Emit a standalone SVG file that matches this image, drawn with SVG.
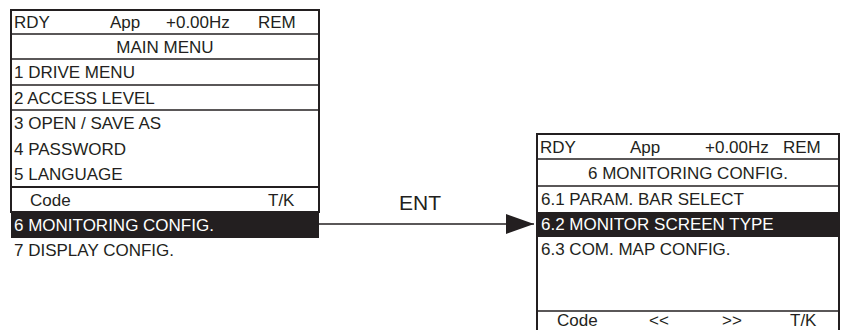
<svg xmlns="http://www.w3.org/2000/svg" width="841" height="330" viewBox="0 0 841 330">
<style>
text{font-family:"Liberation Sans",Arial,sans-serif;font-size:17px;fill:#231f20}
.w{fill:#ffffff}
.b{fill:none;stroke:#231f20;stroke-width:2}
.l{stroke:#231f20;stroke-width:1.5}
.band{fill:#231f20}
</style>
<defs>
<marker id="ah" markerWidth="30" markerHeight="20" refX="28" refY="10" orient="auto" markerUnits="userSpaceOnUse">
<path d="M0,0 L28,10 L0,20 Z" fill="#231f20"/>
</marker>
</defs>
<rect width="841" height="330" fill="#ffffff"/>
<g id="main-menu">
<rect class="b" x="11" y="10" width="308" height="202"/>
<line class="l" x1="11" y1="34" x2="319" y2="34"/>
<line class="l" x1="11" y1="59" x2="319" y2="59"/>
<line class="l" x1="11" y1="85" x2="319" y2="85"/>
<line class="l" x1="11" y1="110" x2="319" y2="110"/>
<line class="b" x1="11" y1="187" x2="319" y2="187"/>
<text x="14" y="28">RDY</text>
<text x="110" y="28">App</text>
<text x="166" y="28">+0.00Hz</text>
<text x="258" y="28">REM</text>
<text x="165" y="53" text-anchor="middle">MAIN MENU</text>
<text x="14" y="78">1 DRIVE MENU</text>
<text x="14" y="104">2 ACCESS LEVEL</text>
<text x="14" y="129">3 OPEN / SAVE AS</text>
<text x="14" y="155">4 PASSWORD</text>
<text x="14" y="180">5 LANGUAGE</text>
<text x="30" y="206">Code</text>
<text x="268" y="206">T/K</text>
<rect class="band" x="11" y="212" width="308" height="26"/>
<text class="w" x="14" y="231">6 MONITORING CONFIG.</text>
<text x="14" y="256">7 DISPLAY CONFIG.</text>
</g>
<g id="monitoring-config">
<rect class="b" x="537" y="134" width="302" height="210"/>
<line class="l" x1="537" y1="159" x2="839" y2="159"/>
<line class="l" x1="537" y1="186" x2="839" y2="186"/>
<line class="l" x1="537" y1="311" x2="839" y2="311"/>
<text x="540" y="153">RDY</text>
<text x="630" y="153">App</text>
<text x="705" y="153">+0.00Hz</text>
<text x="783" y="153">REM</text>
<text x="688" y="179" text-anchor="middle">6 MONITORING CONFIG.</text>
<text x="541" y="205">6.1 PARAM. BAR SELECT</text>
<rect class="band" x="537" y="212" width="302" height="25"/>
<text class="w" x="541" y="230">6.2 MONITOR SCREEN TYPE</text>
<text x="541" y="255">6.3 COM. MAP CONFIG.</text>
<text x="557" y="326">Code</text>
<text x="649" y="326">&lt;&lt;</text>
<text x="722" y="326">&gt;&gt;</text>
<text x="790" y="326">T/K</text>
</g>
<g id="connectors">
<line x1="319" y1="224" x2="534" y2="224" stroke="#231f20" stroke-width="1.5" marker-end="url(#ah)"/>
<text x="420" y="210" text-anchor="middle" style="font-size:21px">ENT</text>
</g>
</svg>
